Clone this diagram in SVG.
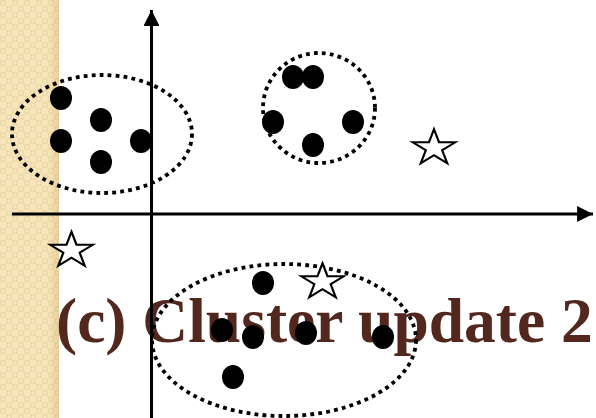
<svg xmlns="http://www.w3.org/2000/svg" width="596" height="418" viewBox="0 0 596 418">
  <defs>
    <pattern id="chk" x="0" y="0" width="12" height="12" patternUnits="userSpaceOnUse">
      <rect width="12" height="12" fill="#F8E6BA"/>
      <rect width="6" height="6" fill="#EFDCAE"/>
      <rect x="6" y="6" width="6" height="6" fill="#EFDCAE"/>
      <rect x="2" y="2" width="2" height="2" fill="#F8E9C6"/>
      <rect x="8" y="8" width="2" height="2" fill="#F8E9C6"/>
    </pattern>
    <linearGradient id="shade" x1="0" y1="0" x2="1" y2="0">
      <stop offset="0" stop-color="#C8A865" stop-opacity="0"/>
      <stop offset="1" stop-color="#C8A865" stop-opacity="0.35"/>
    </linearGradient>
    <marker id="arr" viewBox="0 0 10 10" refX="10" refY="5" markerWidth="5.3" markerHeight="5.3" markerUnits="strokeWidth" orient="auto">
      <path d="M0,0 L10,5 L0,10 Z" fill="#000"/>
    </marker>
    <polygon id="star" points="0,-1 0.2245,-0.309 0.9511,-0.309 0.3633,0.118 0.5878,0.809 0,0.382 -0.5878,0.809 -0.3633,0.118 -0.9511,-0.309 -0.2245,-0.309"/>
  </defs>
  <style>
    .dot { fill: #000; }
    .clu { fill: none; stroke: #000; stroke-width: 3.8; stroke-dasharray: 3.8 4.2; }
    .ax { stroke: #000; stroke-width: 3; fill: none; }
    .st { fill: #fff; stroke: #000; stroke-width: 0.1; }
    .lbl { font-family: "Liberation Serif", "Times New Roman", serif; font-weight: bold; font-size: 63.5px; fill: #52281E; }
  </style>
  <rect width="596" height="418" fill="#fff"/>
  <rect x="0" y="0" width="59" height="418" fill="url(#chk)"/>
  <rect x="48" y="0" width="11" height="418" fill="url(#shade)"/>

  <g id="caption">
    <text class="lbl" x="56" y="342">(c) Cluster update 2</text>
  </g>

  <g id="connectors">
    <line class="ax" x1="12" y1="214" x2="593" y2="214" marker-end="url(#arr)"/>
    <line class="ax" x1="151.5" y1="418" x2="151.5" y2="10" marker-end="url(#arr)"/>
  </g>

  <g id="cluster1">
    <ellipse class="clu" cx="102" cy="134" rx="90" ry="59"/>
    <ellipse class="dot" cx="61" cy="98" rx="11" ry="12"/>
    <ellipse class="dot" cx="101" cy="120" rx="11" ry="12"/>
    <ellipse class="dot" cx="61" cy="141" rx="11" ry="12"/>
    <ellipse class="dot" cx="141" cy="141" rx="11" ry="12"/>
    <ellipse class="dot" cx="101" cy="162" rx="11" ry="12"/>
  </g>

  <g id="cluster2">
    <ellipse class="clu" cx="319" cy="108" rx="56" ry="55"/>
    <ellipse class="dot" cx="293" cy="77" rx="11" ry="12"/>
    <ellipse class="dot" cx="313" cy="77" rx="11" ry="12"/>
    <ellipse class="dot" cx="273" cy="122" rx="11" ry="12"/>
    <ellipse class="dot" cx="353" cy="122" rx="11" ry="12"/>
    <ellipse class="dot" cx="313" cy="145" rx="11" ry="12"/>
  </g>

  <g id="cluster3">
    <ellipse class="clu" cx="284" cy="340" rx="132" ry="76"/>
    <ellipse class="dot" cx="263" cy="283" rx="11" ry="12"/>
    <ellipse class="dot" cx="222" cy="330" rx="11" ry="12"/>
    <ellipse class="dot" cx="253" cy="337" rx="11" ry="12"/>
    <ellipse class="dot" cx="306" cy="333" rx="11" ry="12"/>
    <ellipse class="dot" cx="383" cy="337" rx="11" ry="12"/>
    <ellipse class="dot" cx="233" cy="377" rx="11" ry="12"/>
  </g>

  <g id="star1">
    <use href="#star" class="st" transform="translate(434 148) scale(22.5 18.8)"/>
  </g>
  <g id="star2">
    <use href="#star" class="st" transform="translate(71.5 250.5) scale(22.5 18.8)"/>
  </g>
  <g id="star3">
    <use href="#star" class="st" transform="translate(322.5 282) scale(22.5 18.8)"/>
  </g>
</svg>
